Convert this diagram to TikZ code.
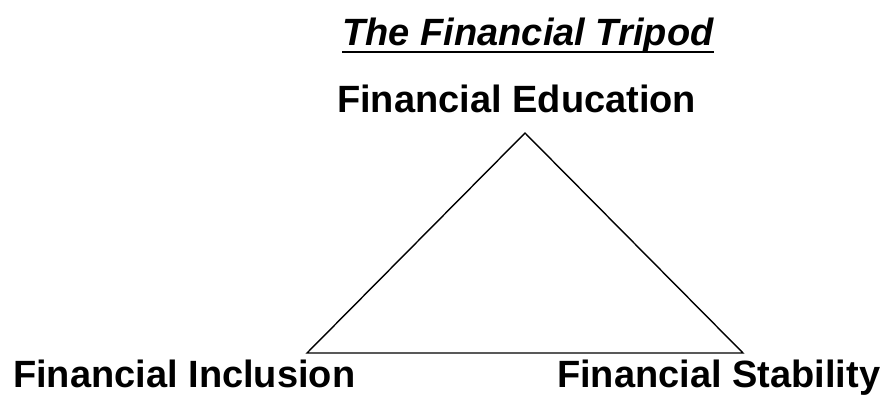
\documentclass[tikz,border=0pt]{standalone}
\usepackage{fontspec}
\setmainfont{Liberation Sans}
\begin{document}
\begin{tikzpicture}[x=1pt,y=-1pt,
  lbl/.style={inner sep=0pt,font=\fontsize{38}{40}\selectfont\bfseries},
  ttl/.style={inner sep=0pt,font=\fontsize{38}{40}\selectfont\bfseries\itshape},
  edge/.style={line width=1.4pt,line join=miter}]
\useasboundingbox (0,0) rectangle (880,394);
\node[ttl,anchor=base] (title) at (528,45) {The Financial Tripod};
\draw[line width=2.6pt] ([yshift=-7pt]title.base west) -- ([yshift=-7pt]title.base east);
\node[lbl,anchor=base west] (edu) at (337,112) {Financial Education};
\node[lbl,anchor=base west] (incl) at (13,387) {Financial Inclusion};
\node[lbl,anchor=base west] (stab) at (557,387) {Financial Stability};
\coordinate (apex) at (525,133);
\coordinate (bl) at (307,353);
\coordinate (br) at (743,353);
\draw[edge] (apex) -- (br) -- (bl) -- cycle;
\end{tikzpicture}
\end{document}
